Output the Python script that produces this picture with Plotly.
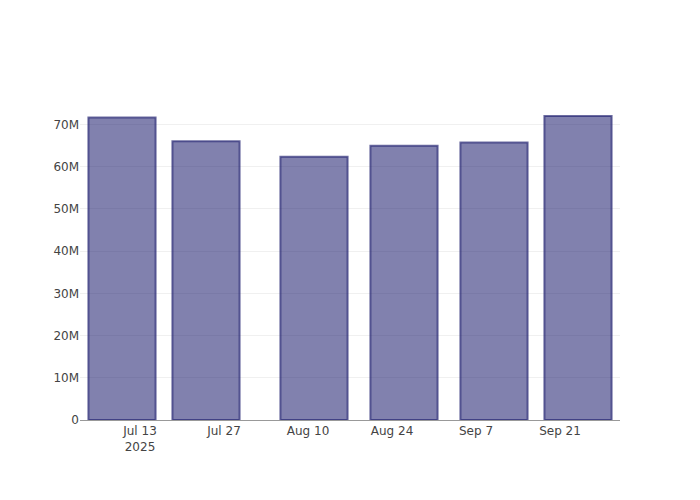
import plotly.graph_objects as go

dates = ["2025-07-10", "2025-07-24", "2025-08-11", "2025-08-26", "2025-09-10", "2025-09-24"]
values = [71.65e6, 66.0e6, 62.35e6, 64.95e6, 65.75e6, 72.0e6]

fig = go.Figure(
    go.Bar(
        x=dates,
        y=values,
        marker=dict(
            color="rgba(30,30,110,0.56)",
            line=dict(color="rgba(30,30,110,0.65)", width=2),
        ),
    )
)

fig.update_layout(
    width=700,
    height=500,
    template="none",
    plot_bgcolor="white",
    paper_bgcolor="white",
    font=dict(family="DejaVu Sans, Open Sans, sans-serif", size=12, color="#444"),
    margin=dict(l=80, r=80, t=100, b=80),
    showlegend=False,
    xaxis=dict(
        type="date",
        showgrid=False,
        showline=True,
        linecolor="#999",
        linewidth=1,
        ticks="",
        zeroline=False,
    ),
    yaxis=dict(
        showgrid=True,
        gridcolor="#f0f0f0",
        zeroline=False,
        showline=False,
        ticks="",
    ),
)

fig.write_html(
    "out.html",
    config={"displayModeBar": False},
    post_script="document.body.style.margin='0';",
)
